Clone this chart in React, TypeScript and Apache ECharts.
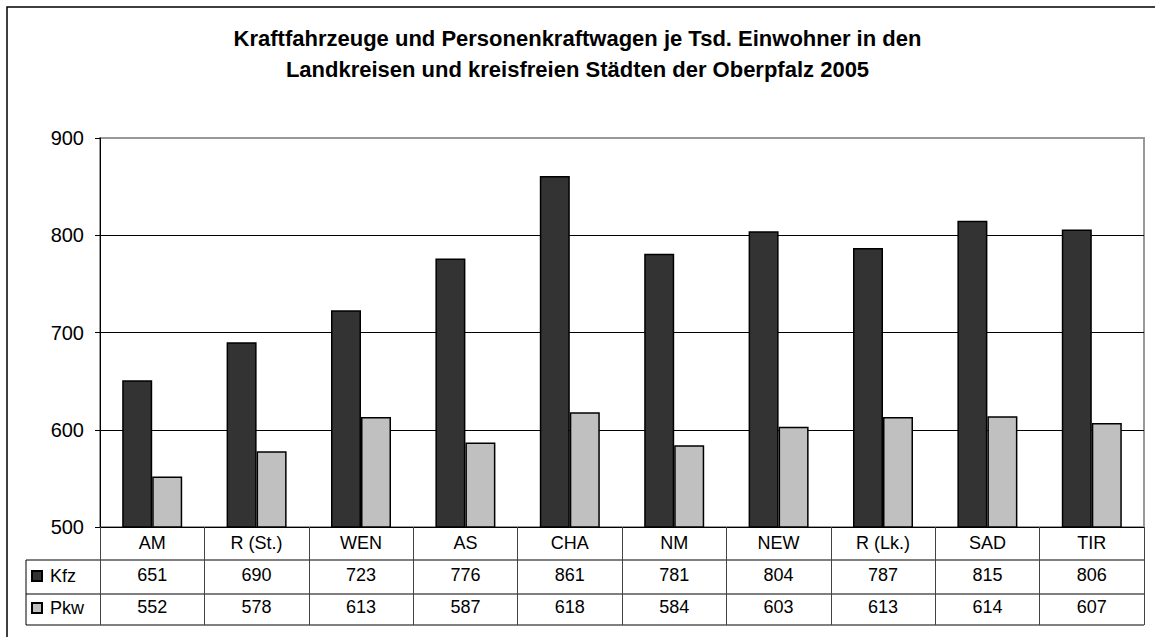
import React, { useEffect, useRef } from "react";
import * as echarts from "echarts";

const categories = ["AM", "R (St.)", "WEN", "AS", "CHA", "NM", "NEW", "R (Lk.)", "SAD", "TIR"];
const kfz = [651, 690, 723, 776, 861, 781, 804, 787, 815, 806];
const pkw = [552, 578, 613, 587, 618, 584, 603, 613, 614, 607];
const seriesNames = ["Kfz", "Pkw"];
const titleText =
  "Kraftfahrzeuge und Personenkraftwagen je Tsd. Einwohner in den\nLandkreisen und kreisfreien Städten der Oberpfalz 2005";

const FONT = "'Liberation Sans', Arial, sans-serif";

export default function App() {
  const ref = useRef<HTMLDivElement>(null);
  useEffect(() => {
    if (!ref.current) return;
    const chart = echarts.init(ref.current, null, { renderer: "svg" });
    const tableLeft = 26;
    const tableRight = 1144;
    const rowLines = [560, 594, 625];
    const graphics: any[] = [
      {
        type: "rect",
        shape: { x: 7, y: 7, width: 1200, height: 700 },
        style: { fill: "none", stroke: "#000", lineWidth: 1.5 },
        silent: true,
      },
      ...rowLines.map((y) => ({
        type: "line",
        shape: { x1: tableLeft, y1: y, x2: tableRight, y2: y },
        style: { stroke: "#000", lineWidth: 1 },
        silent: true,
      })),
      {
        type: "line",
        shape: { x1: tableLeft, y1: rowLines[0], x2: tableLeft, y2: rowLines[2] },
        style: { stroke: "#000", lineWidth: 1 },
        silent: true,
      },
    ];
    chart.setOption({
      animation: false,
      textStyle: { fontFamily: FONT },
      backgroundColor: "#fff",
      title: {
        text: titleText,
        left: "center",
        top: 18,
        padding: [5, 5, 5, 13],
        textStyle: {
          fontFamily: FONT,
          fontSize: 22,
          fontWeight: "bold",
          lineHeight: 31,
          color: "#000",
        },
      },
      legend: {
        orient: "vertical",
        left: 26,
        top: 555,
        itemWidth: 10,
        itemHeight: 10,
        itemGap: 0,
        icon: "rect",
        data: seriesNames,
        textStyle: { fontFamily: FONT, fontSize: 18, lineHeight: 32, color: "#000", padding: [0, 0, 0, 3] },
      },
      grid: {
        left: 100,
        right: 11,
        top: 138,
        bottom: 110,
        show: true,
        borderColor: "#999",
        borderWidth: 2,
      },
      xAxis: {
        type: "category",
        data: categories,
        axisLine: { show: true, lineStyle: { color: "#000", width: 1 } },
        axisTick: { show: true, length: 98, lineStyle: { color: "#444", width: 1 } },
        axisLabel: {
          interval: 0,
          margin: 0,
          fontSize: 18,
          lineHeight: 32,
          color: "#000",
          fontFamily: FONT,
          formatter: (v: string, i: number) => `${v}\n${kfz[i]}\n${pkw[i]}`,
        },
      },
      yAxis: {
        type: "value",
        min: 500,
        max: 900,
        interval: 100,
        axisLine: { show: true, lineStyle: { color: "#000", width: 1 } },
        axisTick: { show: true, length: 5, lineStyle: { color: "#000" } },
        axisLabel: { fontSize: 20, margin: 16, color: "#000", fontFamily: FONT },
        splitLine: {
          show: true,
          lineStyle: { color: ["#000", "#000", "#000", "#000", "#999"], width: 1 },
        },
      },
      series: [
        {
          name: seriesNames[0],
          type: "bar",
          data: kfz,
          barWidth: 30,
          barGap: "0%",
          itemStyle: { color: "#333333", borderColor: "#000", borderWidth: 1.5 },
        },
        {
          name: seriesNames[1],
          type: "bar",
          data: pkw,
          barWidth: 30,
          barGap: "0%",
          itemStyle: { color: "#c0c0c0", borderColor: "#000", borderWidth: 1.5 },
        },
      ],
      graphic: graphics,
    });
    return () => chart.dispose();
  }, []);
  return (
    <div
      ref={ref}
      style={{ position: "absolute", left: 0, top: 0, width: 1155, height: 637 }}
    />
  );
}
